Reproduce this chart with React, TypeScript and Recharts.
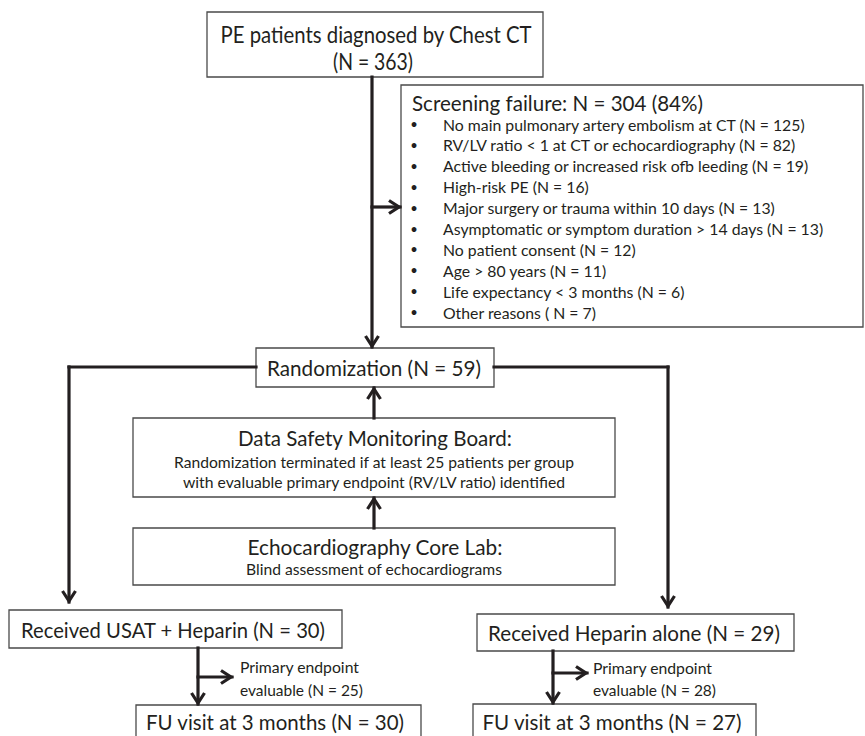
import {
  ReferenceArea,
  ReferenceLine,
  Scatter,
  ScatterChart,
  XAxis,
  YAxis,
} from "recharts";

const W = 865;
const H = 736;
const INK = "#231f20";
const BORDER = "#4a4a4a";
const FONT = "Lato, 'Open Sans', sans-serif";

// ---- content of the flow diagram
const topLines = ["PE patients diagnosed by Chest CT", "(N = 363)"];
const screeningTitle = "Screening failure: N = 304 (84%)";
const screeningItems = [
  "No main pulmonary artery embolism at CT (N = 125)",
  "RV/LV ratio < 1 at CT or echocardiography (N = 82)",
  "Active bleeding or increased risk ofb leeding (N = 19)",
  "High-risk PE  (N = 16)",
  "Major surgery or trauma within 10 days (N = 13)",
  "Asymptomatic or symptom duration > 14 days (N = 13)",
  "No patient consent (N = 12)",
  "Age > 80 years (N = 11)",
  "Life expectancy < 3 months (N = 6)",
  "Other reasons ( N = 7)",
];
const randomizationLabel = "Randomization (N = 59)";
const dsmbLines = [
  "Data Safety Monitoring Board:",
  "Randomization terminated if at least 25 patients per group",
  "with evaluable primary endpoint (RV/LV ratio) identified",
];
const echoLines = ["Echocardiography Core Lab:", "Blind assessment of echocardiograms"];
const armLabels = ["Received USAT + Heparin (N = 30)", "Received Heparin alone (N = 29)"];
const endpointLines = [
  ["Primary endpoint", "evaluable (N = 25)"],
  ["Primary endpoint", "evaluable (N = 28)"],
];
const fuLabels = ["FU visit at 3 months (N = 30)", "FU visit at 3 months (N = 27)"];

// ---- layout (pixel space of the 865x736 canvas)
const BOX = {
  top: { x1: 207, x2: 543, y1: 12, y2: 77 },
  screen: { x1: 401, x2: 863, y1: 85, y2: 327 },
  rand: { x1: 256, x2: 494, y1: 348, y2: 387 },
  dsmb: { x1: 133, x2: 615, y1: 418, y2: 497 },
  echo: { x1: 133, x2: 615, y1: 528, y2: 585 },
  armL: { x1: 9, x2: 342, y1: 610, y2: 648 },
  armR: { x1: 477, x2: 794, y1: 614, y2: 651 },
  fuL: { x1: 136, x2: 421, y1: 705, y2: 750 },
  fuR: { x1: 473, x2: 756, y1: 704, y2: 750 },
};

type Pt = [number, number];
const connectors: Pt[][] = [
  [[372, 77], [372, 347]],
  [[372, 207], [400, 207]],
  [[256, 367], [69, 367], [69, 602]],
  [[494, 367], [668, 367], [668, 607]],
  [[374, 418], [374, 388]],
  [[374, 528], [374, 498]],
  [[198, 648], [198, 704]],
  [[198, 677], [232, 677]],
  [[553, 651], [553, 703]],
  [[553, 673], [587, 673]],
];

type Label = { x: number; y: number; text: string; size: number; len?: number; anchor?: string };

const REASON_Y0 = 124;
const REASON_STEP = 20.9;

const labels: Label[] = [
  { x: 376, y: 34, text: topLines[0], size: 22.5, len: 311 },
  { x: 373, y: 61, text: topLines[1], size: 22.5, len: 80 },
  { x: 412, y: 103, text: screeningTitle, size: 21.5, len: 291, anchor: "start" },
  ...screeningItems.flatMap((t, i) => [
    { x: 414, y: REASON_Y0 + i * REASON_STEP, text: "•", size: 13, anchor: "middle" },
    { x: 443, y: REASON_Y0 + i * REASON_STEP, text: t, size: 15.8, anchor: "start" },
  ]),
  { x: 374, y: 368, text: randomizationLabel, size: 21.5, len: 214 },
  { x: 375, y: 438, text: dsmbLines[0], size: 20.5, len: 274 },
  { x: 374, y: 461, text: dsmbLines[1], size: 16, len: 400 },
  { x: 374, y: 481, text: dsmbLines[2], size: 16, len: 382 },
  { x: 375, y: 547, text: echoLines[0], size: 20.5, len: 255 },
  { x: 374, y: 568, text: echoLines[1], size: 16, len: 256 },
  { x: 173, y: 630, text: armLabels[0], size: 21.5, len: 304 },
  { x: 634, y: 633, text: armLabels[1], size: 21.5, len: 292 },
  { x: 240, y: 666, text: endpointLines[0][0], size: 16, len: 119, anchor: "start" },
  { x: 240, y: 689, text: endpointLines[0][1], size: 16, len: 123, anchor: "start" },
  { x: 593, y: 667, text: endpointLines[1][0], size: 16, len: 119, anchor: "start" },
  { x: 593, y: 689, text: endpointLines[1][1], size: 16, len: 123, anchor: "start" },
  { x: 275, y: 722, text: fuLabels[0], size: 21.5, len: 258 },
  { x: 612, y: 722, text: fuLabels[1], size: 21.5, len: 259 },
];

// arrow tips: last point of each connector, pointing along the final segment
const arrowTips = connectors.map((pts) => {
  const [ax, ay] = pts[pts.length - 2];
  const [bx, by] = pts[pts.length - 1];
  return { x: bx, y: by, dx: Math.sign(bx - ax), dy: Math.sign(by - ay) };
});

const TextShape = (props: any) => {
  const { cx, cy, payload } = props;
  return (
    <text
      x={cx}
      y={cy}
      dominantBaseline="central"
      textAnchor={payload.anchor || "middle"}
      fontSize={payload.size}
      fontFamily={FONT}
      fill={INK}
      textLength={payload.len}
      lengthAdjust={payload.len ? "spacingAndGlyphs" : undefined}
    >
      {payload.text}
    </text>
  );
};

const ArrowShape = (props: any) => {
  const { cx, cy, payload } = props;
  const { dx, dy } = payload;
  const back = 11;
  const half = 6.5;
  const bx = cx - dx * back;
  const by = cy - dy * back;
  const px = -dy * half;
  const py = dx * half;
  return (
    <path
      d={`M${bx + px},${by + py} L${cx - dx},${cy - dy} L${bx - px},${by - py}`}
      fill="none"
      stroke={INK}
      strokeWidth={3.2}
      strokeLinejoin="miter"
    />
  );
};

export default function App() {
  const segments: [Pt, Pt][] = connectors.flatMap((pts) =>
    pts.slice(1).map((p, i) => [pts[i], p] as [Pt, Pt])
  );
  return (
    <div style={{ width: W, height: H, background: "#fff" }}>
      <style>{`body{margin:0;background:#fff}`}</style>
      <ScatterChart width={W} height={H} margin={{ top: 0, right: 0, bottom: 0, left: 0 }}>
        <XAxis type="number" dataKey="x" domain={[0, W]} hide allowDataOverflow />
        <YAxis type="number" dataKey="y" domain={[0, H]} reversed hide allowDataOverflow />
        {Object.entries(BOX).map(([k, b]) => (
          <ReferenceArea
            key={k}
            x1={b.x1}
            x2={b.x2}
            y1={b.y1}
            y2={b.y2}
            fill="#fff"
            fillOpacity={1}
            stroke={BORDER}
            strokeWidth={1.3}
            ifOverflow="visible"
          />
        ))}
        {segments.map(([a, b], i) => (
          <ReferenceLine
            key={i}
            segment={[
              { x: a[0], y: a[1] },
              { x: b[0], y: b[1] },
            ]}
            stroke={INK}
            strokeWidth={3.2}
            strokeLinecap="square"
            ifOverflow="visible"
          />
        ))}
        <Scatter data={arrowTips} shape={ArrowShape} isAnimationActive={false} />
        <Scatter data={labels} shape={TextShape} isAnimationActive={false} />
      </ScatterChart>
    </div>
  );
}
